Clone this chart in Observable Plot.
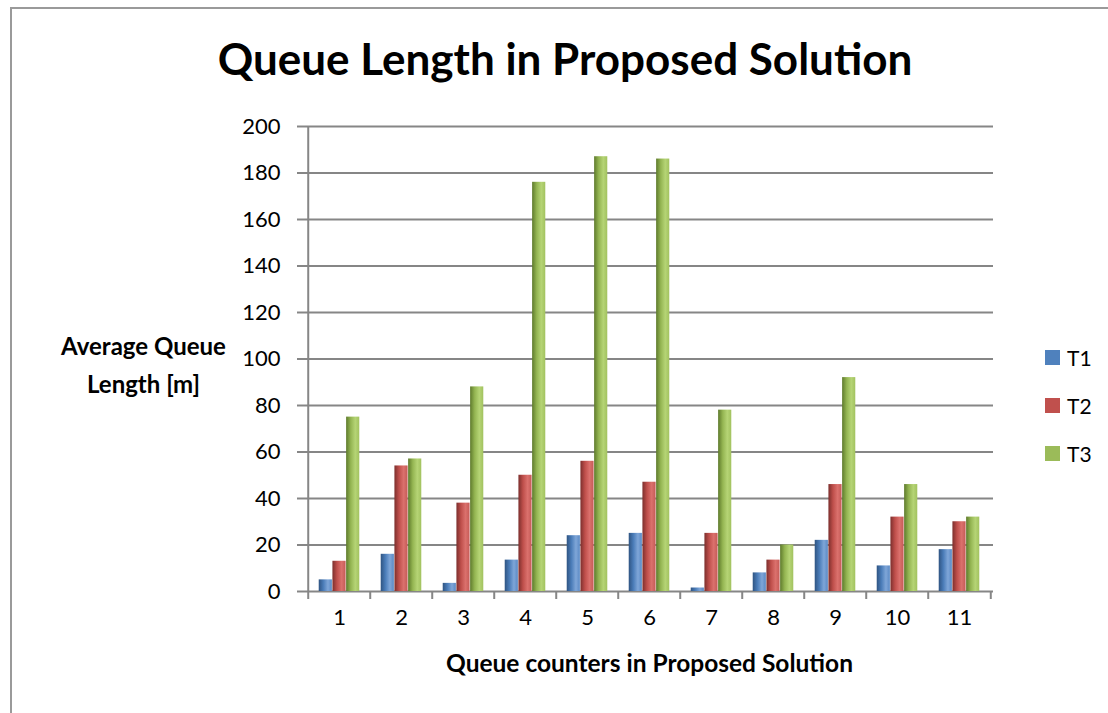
<!DOCTYPE html>
<html>
<head>
<meta charset="utf-8">
<script src="https://cdn.jsdelivr.net/npm/d3@7"></script>
<script src="https://cdn.jsdelivr.net/npm/@observablehq/plot@0.6"></script>
<style>
  body { margin: 0; background: #fff; font-family: Lato, "Open Sans", sans-serif; }
  #wrap { position: relative; width: 1108px; height: 713px; overflow: hidden; }
  #frame { position: absolute; left: 10px; top: 7px; width: 1200px; height: 800px; border: 2px solid #9a9a9a; box-sizing: border-box; }
  #title { position: relative; height: 110px; box-sizing: border-box; padding-top: 36px; padding-left: 22px; text-align: center; font-size: 44px; font-weight: bold; line-height: 1; color: #000; }
  #chart { position: relative; }
  .leg { position: absolute; left: 1045px; font-size: 21px; color: #000; display: flex; align-items: center; }
  .leg span.sw { width: 15px; height: 15px; display: inline-block; margin-right: 7px; }
</style>
</head>
<body>
<div id="wrap">
  <div id="frame"></div>
  <div id="title">Queue Length in Proposed Solution</div>
  <div id="chart"></div>
  <div id="legend"></div>
</div>
<script>
const categories = ["1","2","3","4","5","6","7","8","9","10","11"];
const seriesNames = ["T1","T2","T3"];
const T1 = [5, 16, 3.5, 13.5, 24, 25, 1.5, 8, 22, 11, 18];
const T2 = [13, 54, 38, 50, 56, 47, 25, 13.5, 46, 32, 30];
const T3 = [75, 57, 88, 176, 187, 186, 78, 20, 92, 46, 32];
const yTicks = [0, 20, 40, 60, 80, 100, 120, 140, 160, 180, 200];
const colors = {T1: "#4F81BD", T2: "#C0504D", T3: "#9BBB59"};

const seriesValues = {T1, T2, T3};
const rows = seriesNames.flatMap(s => categories.map((c, i) => ({cat: c, series: s, value: seriesValues[s][i]})));

const W = 1108, H = 603;
const mL = 305, mR = 115, mT = 16, mB = 122;
const bw = (W - mL - mR) / categories.length;
const barW = 13.7;
const groupStart = (bw - 3 * barW) / 2;
const grid = "#868686";

const barMarks = seriesNames.map((s, k) => Plot.barY(rows.filter(d => d.series === s), {
  x: "cat", y: "value", fill: `url(#g${s})`,
  insetLeft: groupStart + k * barW,
  insetRight: bw - groupStart - (k + 1) * barW
}));

const svg = Plot.plot({
  width: W, height: H,
  marginLeft: mL, marginRight: mR, marginTop: mT, marginBottom: mB,
  style: {fontFamily: "Lato, 'Open Sans', sans-serif", background: "transparent"},
  x: {domain: categories, padding: 0, axis: null},
  y: {domain: [0, 200], axis: null},
  marks: [
    Plot.gridY(yTicks.filter(v => v > 0), {stroke: grid, strokeOpacity: 1, strokeWidth: 2}),
    Plot.ruleY([0], {stroke: grid, strokeWidth: 2}),
    Plot.ruleX([categories[0]], {dx: -bw / 2, y1: 0, y2: 200, stroke: grid, strokeWidth: 2}),
    Plot.ruleX(categories, {dx: -bw / 2, y1: 0, y2: 0, insetTop: 8, stroke: grid, strokeWidth: 2}),
    Plot.ruleX([categories[categories.length - 1]], {dx: bw / 2, y1: 0, y2: 0, insetTop: 8, stroke: grid, strokeWidth: 2}),
    Plot.axisY({ticks: yTicks, tickSize: 8, tickPadding: 17, fontSize: 22, stroke: grid, strokeWidth: 2, fill: "#000", label: null}),
    Plot.axisX({tickSize: 0, tickPadding: 18, fontSize: 22, fill: "#000", label: null}),
    ...barMarks,
    Plot.text(["Queue counters in Proposed Solution"], {frameAnchor: "bottom", dy: 73, fontSize: 24.5, fontWeight: "bold", fill: "#000", lineAnchor: "middle"}),
    Plot.text(["Average Queue\nLength [m]"], {frameAnchor: "left", dx: -162, dy: 3, fontSize: 24, fontWeight: "bold", fill: "#000", textAnchor: "middle", lineHeight: 1.55})
  ]
});

// horizontal shading gradients for the bars
const ns = "http://www.w3.org/2000/svg";
const defs = document.createElementNS(ns, "defs");
const shades = {
  T1: ["#2f5482", "#4a7cb8", "#7fa6d8", "#5a89c4"],
  T2: ["#7c2f2d", "#bf4f4b", "#db716d", "#c55a56"],
  T3: ["#5e7a2c", "#94b552", "#b5d475", "#a2c25f"]
};
for (const s of seriesNames) {
  const g = document.createElementNS(ns, "linearGradient");
  g.setAttribute("id", "g" + s);
  g.setAttribute("x1", "0"); g.setAttribute("x2", "1"); g.setAttribute("y1", "0"); g.setAttribute("y2", "0");
  [[0, 0], [0.35, 1], [0.7, 2], [1, 3]].forEach(([o, j]) => {
    const st = document.createElementNS(ns, "stop");
    st.setAttribute("offset", o);
    st.setAttribute("stop-color", shades[s][j]);
    g.appendChild(st);
  });
  defs.appendChild(g);
}
svg.insertBefore(defs, svg.firstChild);
document.getElementById("chart").appendChild(svg);

// legend
const legend = document.getElementById("legend");
const legTops = [350, 398, 446];
seriesNames.forEach((s, k) => {
  const d = document.createElement("div");
  d.className = "leg";
  d.style.top = (legTops[k] - 5) + "px";
  d.innerHTML = `<span class="sw" style="background:${colors[s]}"></span><span>${s}</span>`;
  legend.appendChild(d);
});
</script>
</body>
</html>
